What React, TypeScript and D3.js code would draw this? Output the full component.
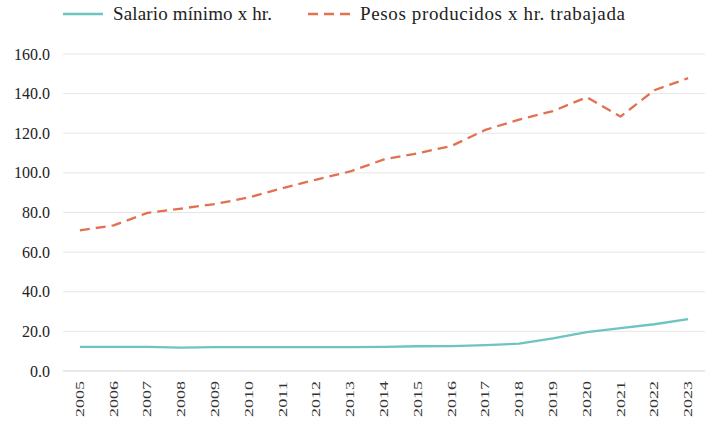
import { useEffect, useRef } from 'react'
import * as d3 from 'd3'

const years = ['2005', '2006', '2007', '2008', '2009', '2010', '2011', '2012', '2013', '2014',
  '2015', '2016', '2017', '2018', '2019', '2020', '2021', '2022', '2023']

const salarioMinimo = [12.2, 12.2, 12.2, 11.8, 12.1, 12.1, 12.1, 12.1, 12.1, 12.2,
  12.5, 12.6, 13.1, 13.8, 16.5, 19.6, 21.6, 23.6, 26.2]

const pesosProducidos = [71.0, 73.5, 79.8, 82.0, 84.3, 87.6, 92.3, 96.6, 100.7, 106.8,
  109.9, 113.6, 121.7, 126.9, 131.2, 138.2, 128.4, 141.7, 147.8]

const yTicks = [0, 20, 40, 60, 80, 100, 120, 140, 160]

const seriesNames = ['Salario mínimo x hr.', 'Pesos producidos x hr. trabajada']

const TEAL = '#6dc4c0'
const ORANGE = '#e2714f'

export default function App() {
  const svgRef = useRef<SVGSVGElement>(null)

  useEffect(() => {
    document.body.style.margin = '0'
    if (!svgRef.current) return
    const svg = d3.select(svgRef.current)
    svg.selectAll('*').remove()

    const width = 716
    const height = 433
    const margin = { top: 54, right: 11, bottom: 62, left: 63 }

    const x = d3.scaleBand<string>()
      .domain(years)
      .range([margin.left, width - margin.right])

    const y = d3.scaleLinear()
      .domain([0, 160])
      .range([height - margin.bottom, margin.top])

    const cx = (d: string) => x(d)! + x.bandwidth() / 2

    // gridlines
    svg.append('g')
      .selectAll('line')
      .data(yTicks)
      .enter()
      .append('line')
      .attr('x1', margin.left)
      .attr('x2', width - margin.right)
      .attr('y1', d => y(d))
      .attr('y2', d => y(d))
      .attr('stroke', d => (d === 0 ? '#d4d4d4' : '#e6e6e6'))
      .attr('stroke-width', 1)

    // y labels
    svg.append('g')
      .selectAll('text')
      .data(yTicks)
      .enter()
      .append('text')
      .attr('x', 50)
      .attr('y', d => y(d))
      .attr('dy', '0.35em')
      .attr('text-anchor', 'end')
      .attr('font-size', 16)
      .attr('fill', '#222')
      .text(d => d.toFixed(1))

    // x labels
    svg.append('g')
      .selectAll('text')
      .data(years)
      .enter()
      .append('text')
      .attr('transform', d => `translate(${cx(d) + 4},381) rotate(-90)`)
      .attr('text-anchor', 'end')
      .attr('font-size', 13)
      .attr('textLength', 36)
      .attr('lengthAdjust', 'spacingAndGlyphs')
      .attr('fill', '#333')
      .text(d => d)

    const line = d3.line<number>()
      .x((_, i) => cx(years[i]))
      .y(d => y(d))

    svg.append('path')
      .datum(salarioMinimo)
      .attr('fill', 'none')
      .attr('stroke', TEAL)
      .attr('stroke-width', 2.3)
      .attr('stroke-linejoin', 'round')
      .attr('d', line)

    svg.append('path')
      .datum(pesosProducidos)
      .attr('fill', 'none')
      .attr('stroke', ORANGE)
      .attr('stroke-width', 2.3)
      .attr('stroke-linejoin', 'round')
      .attr('stroke-dasharray', '10,6')
      .attr('d', line)

    // legend
    const legend = svg.append('g')
    legend.append('line')
      .attr('x1', 63).attr('x2', 103).attr('y1', 14).attr('y2', 14)
      .attr('stroke', TEAL).attr('stroke-width', 2.3)
    legend.append('text')
      .attr('x', 113).attr('y', 20)
      .attr('font-size', 19).attr('fill', '#222')
      .attr('textLength', 159).attr('lengthAdjust', 'spacing')
      .text(seriesNames[0])
    legend.append('line')
      .attr('x1', 308).attr('x2', 350).attr('y1', 14).attr('y2', 14)
      .attr('stroke', ORANGE).attr('stroke-width', 2.3)
      .attr('stroke-dasharray', '10,6')
    legend.append('text')
      .attr('x', 360).attr('y', 20)
      .attr('font-size', 19).attr('fill', '#222')
      .attr('textLength', 265).attr('lengthAdjust', 'spacing')
      .text(seriesNames[1])
  }, [])

  return (
    <svg
      ref={svgRef}
      width={716}
      height={433}
      style={{ display: 'block', background: '#fff', fontFamily: '"Liberation Serif", serif' }}
    />
  )
}
